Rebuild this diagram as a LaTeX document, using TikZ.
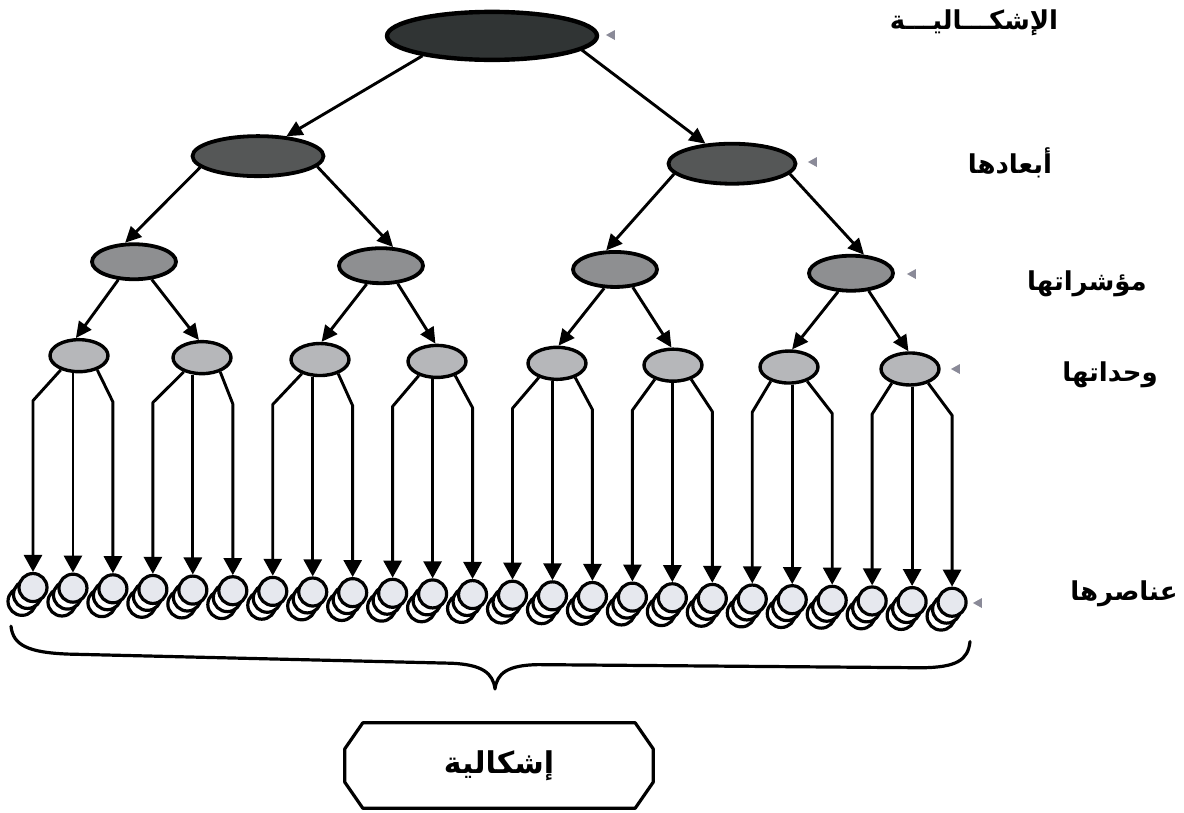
\documentclass[tikz,border=0pt]{standalone}
\usepackage{fontspec}
\newfontfamily\arabicfont[Script=Arabic]{DejaVu Sans}
\TeXXeTstate=1
\usetikzlibrary{arrows.meta,shapes.geometric,calc}
\definecolor{cZero}{HTML}{303434}
\definecolor{cOne}{HTML}{555757}
\definecolor{cTwo}{HTML}{8E8F91}
\definecolor{cThree}{HTML}{B6B7BA}
\definecolor{cFront}{HTML}{E6E8EE}
\definecolor{cPtr}{HTML}{8A8A98}
\begin{document}
\begin{tikzpicture}[x=1pt,y=-1pt,
  ell/.style={ellipse, draw=black, line width=3.8pt, inner sep=0pt},
  lvA/.style={ell, fill=cZero, minimum width=210pt, minimum height=48pt, line width=4.4pt},
  lvB/.style={ell, fill=cOne, minimum width=131pt, minimum height=40pt},
  lvC/.style={ell, fill=cTwo, minimum width=84pt, minimum height=35pt},
  lvD/.style={ell, fill=cThree, minimum width=58pt, minimum height=32pt, line width=3.4pt},
  circF/.style={circle, draw=black, line width=3.2pt, fill=cFront, minimum size=28pt, inner sep=0pt},
  circB/.style={circle, draw=black, line width=3.2pt, fill=white, minimum size=28pt, inner sep=0pt},
  arr/.style={line width=2.9pt, -{Triangle[length=16pt,width=15pt]}},
  varr/.style={line width=2.9pt, line join=round, -{Triangle[length=17pt,width=18pt]}},
  pointer/.style={isosceles triangle, isosceles triangle stretches, shape border rotate=180,
    fill=cPtr, minimum height=9pt, minimum width=10pt, inner sep=0pt},
  lab/.style={inner sep=0pt, font=\arabicfont\bfseries\fontsize{26}{30}\selectfont},
]
\fill[white] (0,0) rectangle (1184,812);
\useasboundingbox (0,0) rectangle (1184,812);

\begin{scope}[yslant=-0.016]
  % tree levels
  \node[lvA] (top) at (492,28) {};
  \node[lvB] (A) at (258,152) {};
  \node[lvB, minimum width=127pt] (B) at (732,152) {};
  \node[lvC] (A1) at (134,259.6) {};
  \node[lvC] (A2) at (381,259.6) {};
  \node[lvC] (B1) at (615,259.6) {};
  \node[lvC] (B2) at (851,259.6) {};
  \node[lvD] (u1) at (79,354.4) {};
  \node[lvD] (u2) at (202,354.4) {};
  \node[lvD] (u3) at (320,354.4) {};
  \node[lvD] (u4) at (437,354.4) {};
  \node[lvD] (u5) at (557,354.4) {};
  \node[lvD] (u6) at (673,354.4) {};
  \node[lvD] (u7) at (789,354.4) {};
  \node[lvD] (u8) at (910,354.4) {};

  % element stacks
  \foreach \i in {1,...,24} {
    \pgfmathsetmacro\cx{33+39.96*(\i-1)}
    \node[circB] (ec\i) at (\cx-11,601) {};
    \node[circB] (eb\i) at (\cx-5.5,594) {};
    \node[circF] (e\i) at (\cx,587) {};
  }

  % tree arrows
  \draw[arr] (top.196) -- (A.35);
  \draw[arr] (top.-9) -- (B.143);
  \draw[arr] (A.191) -- (A1.115);
  \draw[arr] (A.-10) -- (A2.57);
  \draw[arr] (B.190) -- (B1.115);
  \draw[arr] (B.-10) -- (B2.55);
  \draw[arr] (A1.229) -- (u1.100);
  \draw[arr] (A1.-45) -- (u2.100);
  \draw[arr] (A2.232) -- (u3.85);
  \draw[arr] (A2.-47) -- (u4.95);
  \draw[arr] (B1.240) -- (u5.85);
  \draw[arr] (B1.-45) -- (u6.95);
  \draw[arr] (B2.235) -- (u7.80);
  \draw[arr] (B2.-45) -- (u8.95);

  % unit -> element arrows
  \foreach \g in {1,...,8} {
    \pgfmathtruncatemacro\a{3*\g-2}
    \pgfmathtruncatemacro\b{3*\g-1}
    \pgfmathtruncatemacro\c{3*\g}
    \draw[varr] (u\g.218) -- ($(e\a.north |- u\g.south)+(0,28)$) -- (e\a.north);
    \draw[varr] (e\b.north |- u\g.south) -- (e\b.north);
    \draw[varr] (u\g.-38) -- ($(e\c.north |- u\g.south)+(0,28)$) -- (e\c.north);
  }

  % brace
  \draw[line width=3.2pt, line cap=round, line join=round]
    (11,626) .. controls (13,645) and (28,652) .. (68,653)
    -- (452,656) .. controls (482,657) and (493,665) .. (495,681)
    .. controls (497,665) and (508,657) .. (538,656)
    -- (922,653) .. controls (956,652) and (968,645) .. (970,626);
\end{scope}

% side pointers
\node[pointer] (p0) at (612,35) {};
\node[pointer] (p1) at (814,162) {};
\node[pointer] (p2) at (913,274) {};
\node[pointer] (p3) at (957,369) {};
\node[pointer] (p4) at (979,603) {};

% level labels
\node[lab] (t0) at (974,23) {\beginR الإشكـــاليـــة\endR};
\node[lab] (t1) at (1010,163) {\beginR أبعادها\endR};
\node[lab] (t2) at (1087,284) {\beginR مؤشراتها\endR};
\node[lab] (t3) at (1110,375) {\beginR وحداتها\endR};
\node[lab] (t4) at (1124,594) {\beginR عناصرها\endR};

% bottom box
\node[inner sep=0pt, minimum width=308pt, minimum height=85pt,
      font=\arabicfont\bfseries\fontsize{30}{34}\selectfont] (box) at (499,765.5) {\beginR إشكالية\endR};
\draw[line width=3.2pt, line join=round]
  ([xshift=18pt]box.north west) -- ([xshift=-18pt]box.north east)
  -- ([yshift=-26pt]box.north east) -- ([yshift=26pt]box.south east)
  -- ([xshift=-18pt]box.south east) -- ([xshift=18pt]box.south west)
  -- ([yshift=26pt]box.south west) -- ([yshift=-26pt]box.north west) -- cycle;
\end{tikzpicture}
\end{document}
